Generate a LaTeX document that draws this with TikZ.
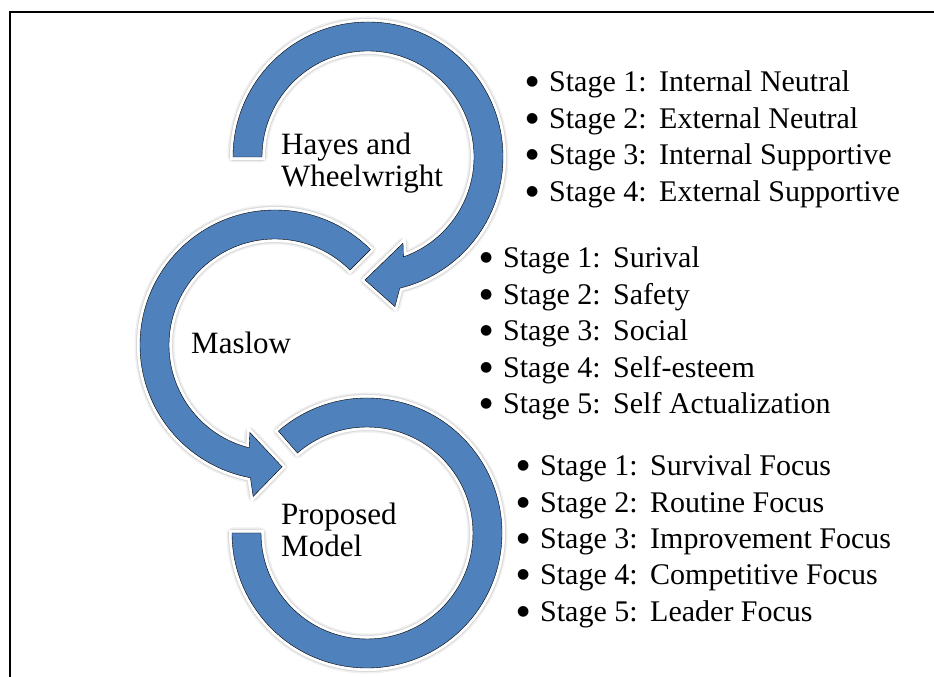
\documentclass[tikz,border=0pt]{standalone}
\usepackage{fontspec}
\setmainfont{Liberation Serif}
\newfontfamily\dotfont{DejaVu Sans}
\definecolor{ringblue}{RGB}{79,129,189}
\newcommand{\stagedot}{\makebox[23pt][l]{\raisebox{6pt}{\dotfont\fontsize{14}{14}\selectfont ●}}}
\begin{document}
\begin{tikzpicture}[x=1pt,y=1pt]
  \tikzset{
    ring/.style={
      preaction={draw=black!6,line width=11pt,line join=round},
      preaction={draw=black!15,line width=8pt,line join=round},
      preaction={draw=white,line width=6pt,line join=miter},
      fill=ringblue,
    },
    circtext/.style={anchor=base west,align=left,inner sep=0pt,font=\fontsize{31}{32}\selectfont},
    item/.style={anchor=base west,inner sep=0pt,font=\fontsize{30}{32}\selectfont},
  }
  \useasboundingbox (0,0) rectangle (934,677);

    %FRAME
    \draw[line width=2pt] (10,-5) -- (10,665) -- (940,665);

    %PROPOSED MODEL RING
    \begin{scope}[shift={(367,144)}]
      \draw[ring] (131:135) arc[start angle=131,end angle=-180,radius=135]
        -- (-180:106) arc[start angle=-180,end angle=131,radius=106] -- cycle;
    \end{scope}
    %MASLOW RING
    \begin{scope}[shift={(275,332)}]
      \draw[ring] (45:135) arc[start angle=45,end angle=259.5,radius=135]
        -- (261.8:153) -- (273.3:122) -- (254:91)
        -- (255.9:106) arc[start angle=255.9,end angle=45,radius=106] -- cycle;
    \end{scope}
    %HAYES RING
    \begin{scope}[shift={(368,520)}]
      \draw[ring] (180:135) arc[start angle=180,end angle=-76.4,radius=135]
        -- (-79.8:152) -- (-91.4:123) -- (-67.9:93)
        -- (-70.5:106) arc[start angle=-70.5,end angle=180,radius=106] -- cycle;
    \end{scope}

    %RING TEXTS
    \node[circtext] (hayes) at (281,490) {Hayes and\\Wheelwright};
    \node[circtext] (maslow) at (191,323) {Maslow};
    \node[circtext] (model) at (281,120) {Proposed\\Model};

    %STAGES
    \foreach \txt [count=\i] in {Internal Neutral,External Neutral,Internal Supportive,External Supportive} {
      \node[item] (hw\i) at (526,621.5-36.5*\i) {\stagedot\makebox[110pt][l]{Stage \i:}\txt};
    }
    \foreach \txt [count=\i] in {Surival,Safety,Social,Self-esteem,Self Actualization} {
      \node[item] (ms\i) at (480,445.5-36.5*\i) {\stagedot\makebox[110pt][l]{Stage \i:}\txt};
    }
    \foreach \txt [count=\i] in {Survival Focus,Routine Focus,Improvement Focus,Competitive Focus,Leader Focus} {
      \node[item] (pm\i) at (517,237.3-36.3*\i) {\stagedot\makebox[110pt][l]{Stage \i:}\txt};
    }
  \end{tikzpicture}
\end{document}
